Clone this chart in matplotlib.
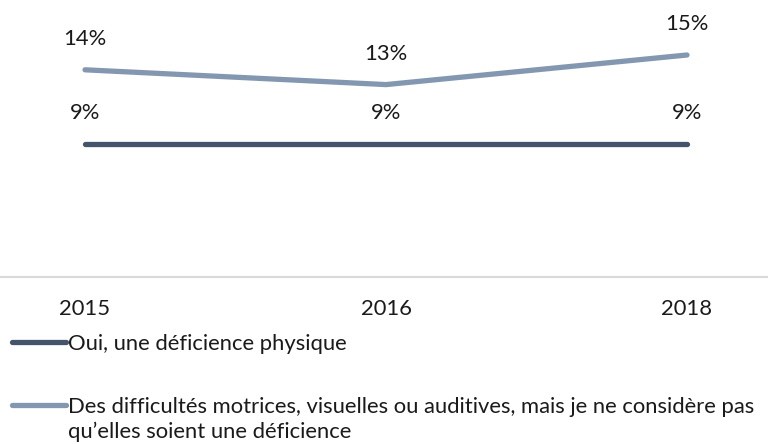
import matplotlib
matplotlib.use("Agg")
import matplotlib.pyplot as plt

years = ["2015", "2016", "2018"]
oui_deficience = [9, 9, 9]
difficultes = [14, 13, 15]
labels = ["Oui, une déficience physique",
          "Des difficultés motrices, visuelles ou auditives, mais je ne considère pas\nqu’elles soient une déficience"]
colors = ["#44546A", "#8497B0"]

plt.rcParams['font.family'] = ['Lato', 'DejaVu Sans']
fs = 15.8
txt_col = '#1a1a1a'

fig = plt.figure(figsize=(7.68, 4.44), dpi=100)
ax = fig.add_axes([0, 1 - 277 / 444, 1, 277 / 444])

x = list(range(len(years)))
for vals, col, lab in zip([oui_deficience, difficultes], colors, labels):
    # legend shows only the first line, the rest is added underneath
    ax.plot(x, vals, color=col, lw=3.8, solid_capstyle='round', label=lab.split("\n")[0])
    for xi, v in zip(x, vals):
        ax.annotate(f"{v}%", (xi, v), xytext=(0, 22), textcoords='offset points',
                    ha='center', va='center', fontsize=fs, color=txt_col)

ax.set_xlim(-85 / 301, 2 + 81 / 301)
ax.set_ylim(0, 277 / 14.8)
ax.set_xticks(x)
ax.set_xticklabels(years, fontsize=fs, color=txt_col)
ax.tick_params(axis='x', length=0, pad=16)
ax.set_yticks([])
for s in ['top', 'left', 'right']:
    ax.spines[s].set_visible(False)
ax.spines['bottom'].set_color('#D9D9D9')
ax.spines['bottom'].set_linewidth(1.5)

leg = fig.legend(loc='upper left', bbox_to_anchor=(12 / 768, 1 - 334 / 444),
                 frameon=False, fontsize=fs, handlelength=2.45, handletextpad=0.1,
                 labelspacing=1.95, borderpad=0, borderaxespad=0)
for t in leg.get_texts():
    t.set_color(txt_col)

# continuation line of the wrapped second label
fig.canvas.draw()
bb = leg.get_texts()[1].get_window_extent()
fig.text(bb.x0 / 768, (bb.y0 - 25 + bb.height / 2) / 444, labels[1].split("\n")[1],
         fontsize=fs, color=txt_col, ha='left', va='center')

fig.savefig("out.png", dpi=100)
